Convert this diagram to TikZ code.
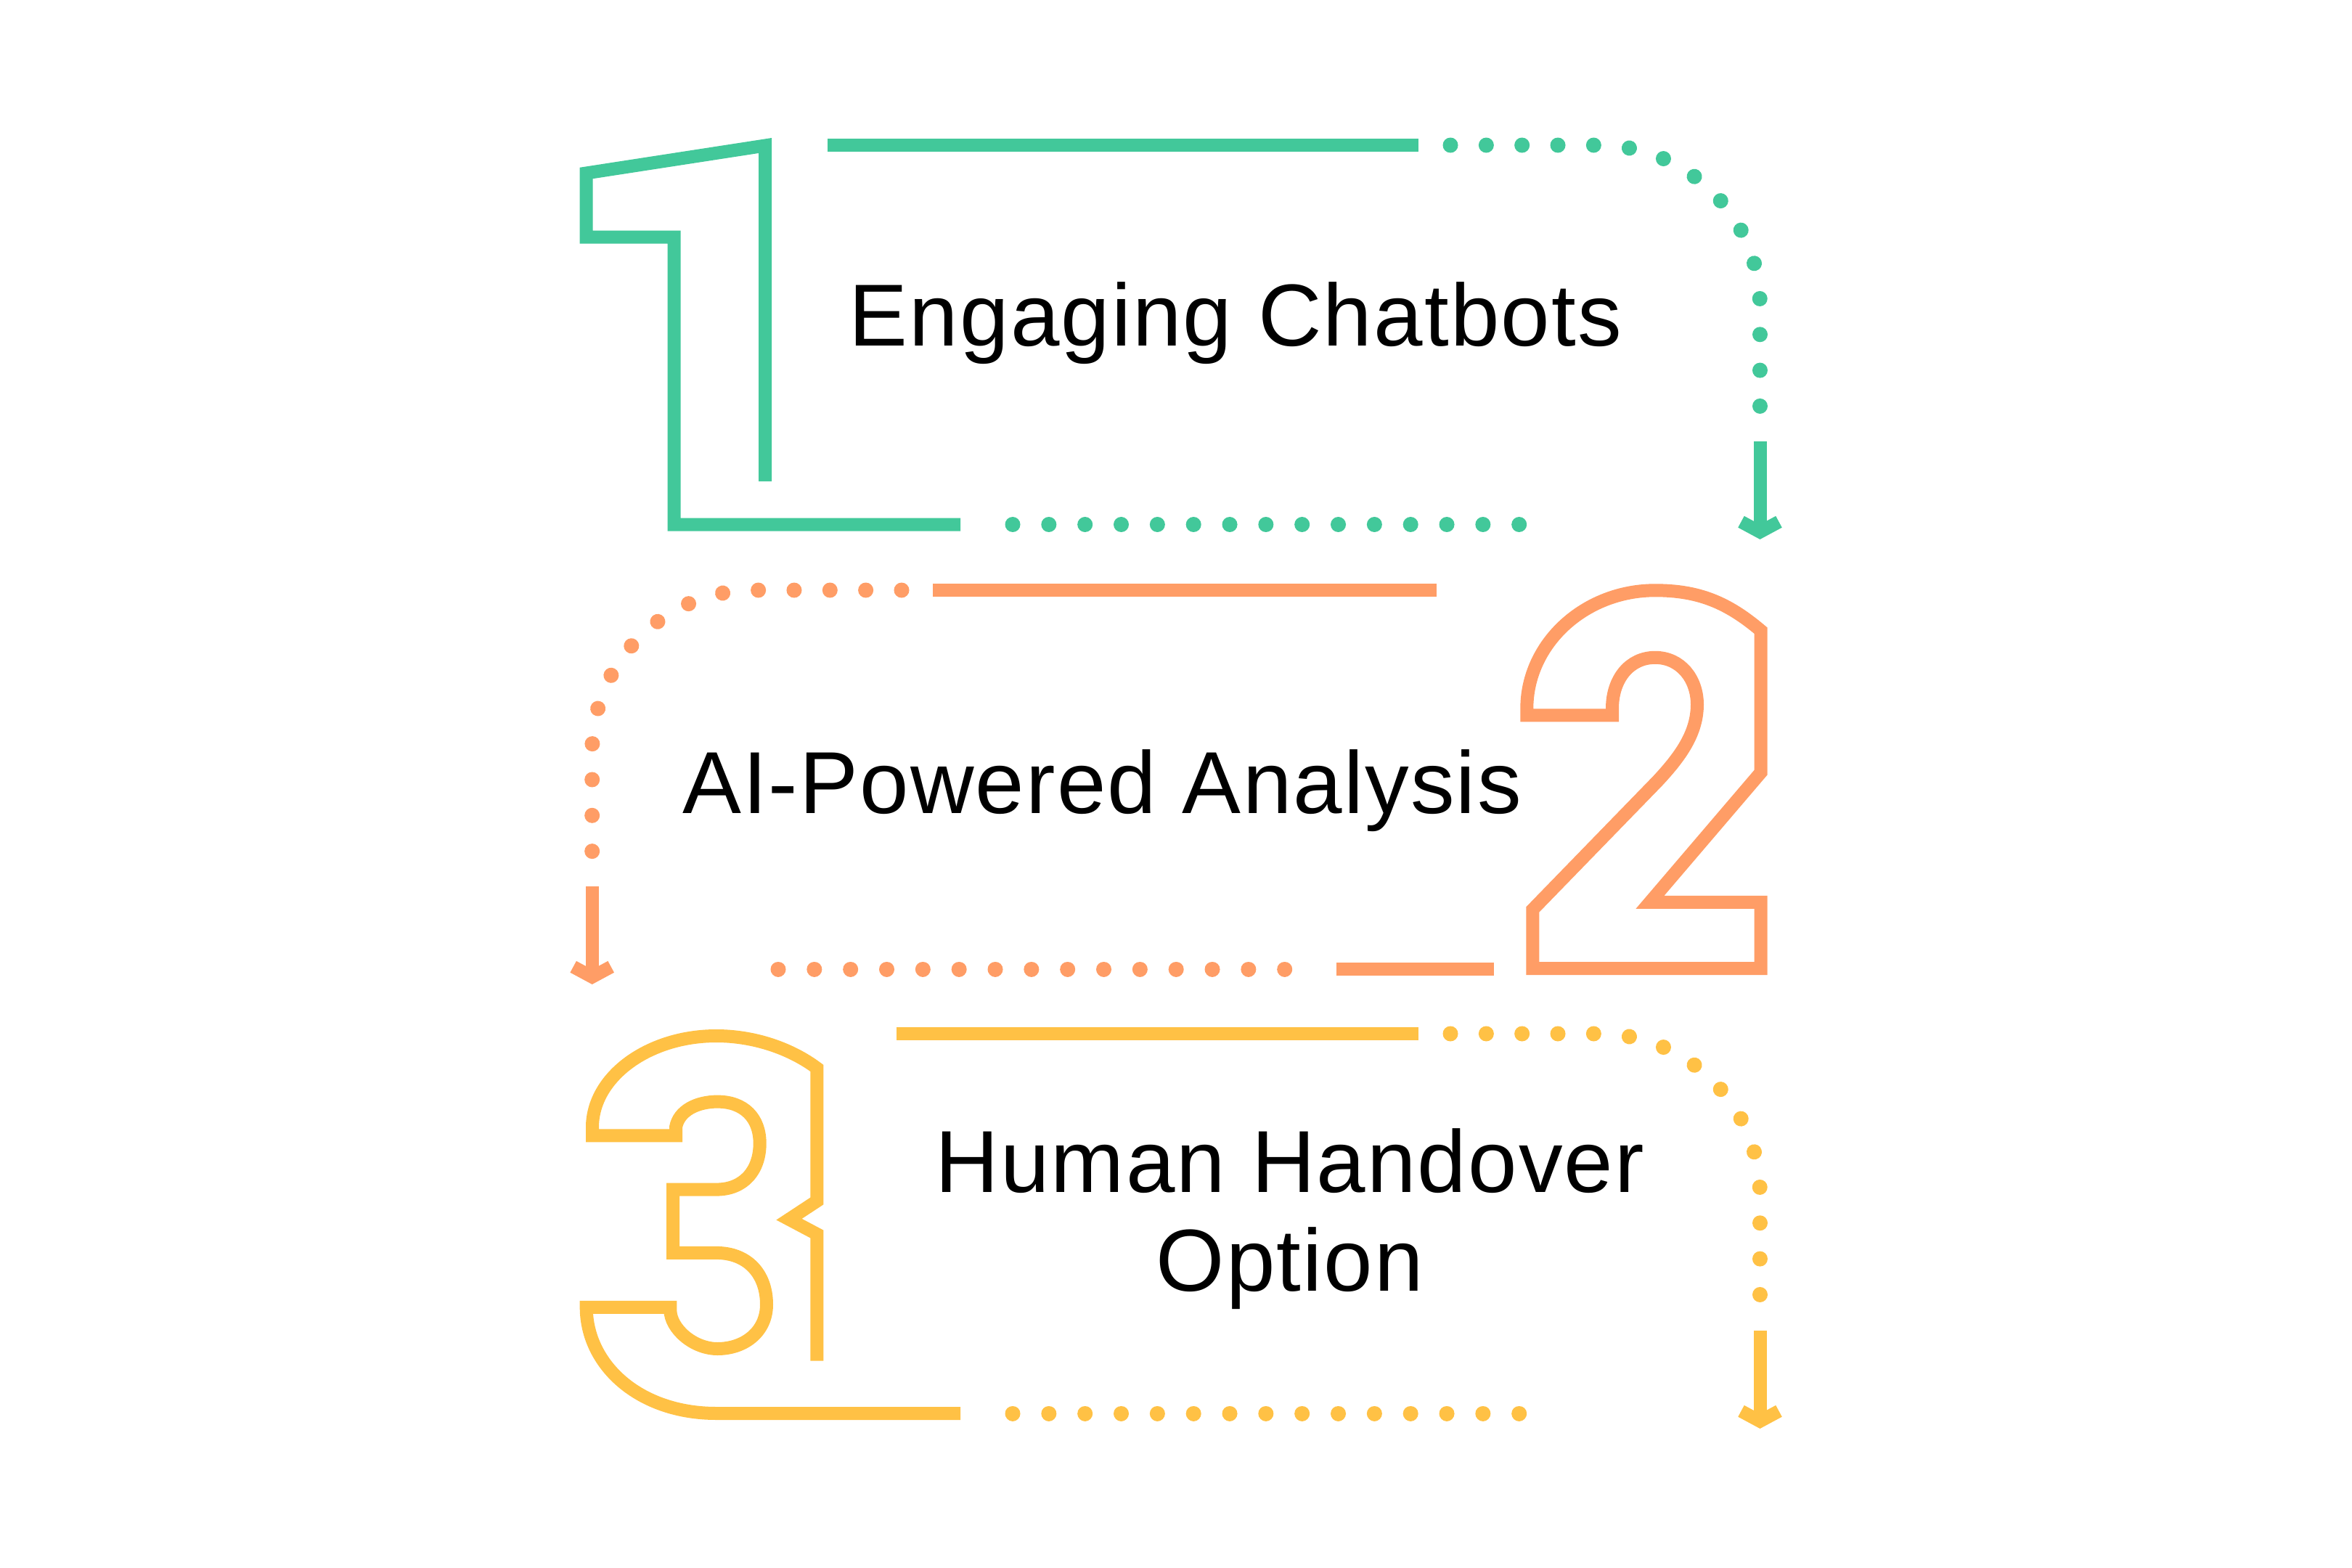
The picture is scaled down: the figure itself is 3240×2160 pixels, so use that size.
\documentclass[tikz,border=0pt]{standalone}
\usepackage{fontspec}
\setsansfont[LetterSpace=1.8]{Liberation Sans}
\usetikzlibrary{arrows.meta}
\definecolor{stepgreen}{HTML}{42C89A}
\definecolor{steporange}{HTML}{FF9D66}
\definecolor{stepyellow}{HTML}{FFC145}

\begin{document}
\begin{tikzpicture}[
  x=0.1mm, y=-0.1mm,
  font=\sffamily,
  digit/.style={line width=1.8mm, line join=miter, line cap=butt},
  solidbar/.style={line width=1.8mm},
  dotline/.style={line width=2.1mm, line cap=round, dash pattern=on 0.01pt off 4.93mm, rounded corners=22.2mm},
  flatdots/.style={dotline, dash pattern=on 0.01pt off 4.98mm},
  flowarrow/.style={line width=1.8mm, -{Straight Barb[length=1.4mm, width=5.2mm]}},
  steptext/.style={font=\sffamily\fontsize{34.5}{38.7}\selectfont, text=black, anchor=base, inner sep=0pt, align=center}
]
  \useasboundingbox (0,0) rectangle (3240,2160);

  % Step 1: Engaging Chatbots
  \node[steptext] (t1) at (1702,476) {Engaging Chatbots};
  \draw[digit, stepgreen] (1054,663) -- (1054,200.5) -- (807.6,238.5) -- (807.6,326.5)
    -- (928.5,326.5) -- (928.5,722.6) -- (1323,722.6);
  \draw[solidbar, stepgreen] (1140,200) -- (1954,200);
  \coordinate (g-dot) at (1998,200);
  \coordinate (g-turn) at (2424.5,200);
  \coordinate (g-end) at (2424.5,562);
  \coordinate (g-tip) at (2424.5,743);
  \draw[dotline, stepgreen] (g-dot) -- (g-turn) -- (g-end);
  \draw[flowarrow, stepgreen] ([yshift=-4.6mm]g-end) -- (g-tip);
  \draw[flatdots, stepgreen] (1395,722.6) -- (2096,722.6);

  % Step 2: AI-Powered Analysis
  \node[steptext] (t2) at (1518,1120) {AI-Powered Analysis};
  \draw[solidbar, steporange] (1285,813) -- (1979,813);
  \coordinate (o-dot) at (1242,813);
  \coordinate (o-turn) at (815.7,813);
  \coordinate (o-end) at (815.7,1175);
  \coordinate (o-tip) at (815.7,1356);
  \draw[dotline, steporange] (o-dot) -- (o-turn) -- (o-end);
  \draw[flowarrow, steporange] ([yshift=-4.6mm]o-end) -- (o-tip);
  \draw[flatdots, steporange] (1072,1335) -- (1774,1335);
  \draw[solidbar, steporange] (1841,1335) -- (2058,1335);
  \draw[digit, steporange] (2111.3,1334.2) -- (2425.7,1334.2) -- (2425.7,1242.8) -- (2273,1242.8)
    -- (2425.7,1064) -- (2425.7,868.8)
    .. controls (2380,830) and (2340,813.3) .. (2280,813.3)
    .. controls (2182.8,813.3) and (2103.3,886.5) .. (2103.3,976)
    -- (2103.3,985.3) -- (2221,985.3) -- (2221,976)
    .. controls (2221,935) and (2245,905.8) .. (2280,905.8)
    .. controls (2315,905.8) and (2338,935) .. (2338,970.5)
    .. controls (2338,1010) and (2315,1042) .. (2283.3,1076)
    -- (2111.3,1253) -- cycle;

  % Step 3: Human Handover Option
  \node[steptext] (t3) at (1777,1778) {Human Handover\\Option};
  \draw[digit, stepyellow] (1125.3,1874.6) -- (1125.3,1700) -- (1087,1679.7) -- (1125.3,1654.5)
    -- (1125.3,1471.4)
    .. controls (1090,1445) and (1040,1427) .. (986.7,1427)
    .. controls (892.8,1427) and (816,1483.6) .. (816,1552.8)
    -- (816,1564.3) -- (931,1564.3) -- (931,1552.8)
    .. controls (935,1530) and (960,1517.6) .. (988.3,1517.6)
    .. controls (1025,1517.6) and (1046.7,1540) .. (1046.7,1575)
    .. controls (1046.7,1612) and (1025,1638.6) .. (986.7,1638.6)
    -- (927,1638.6) -- (927,1725.9) -- (986.7,1725.9)
    .. controls (1030,1725.9) and (1056,1755) .. (1056,1797)
    .. controls (1056,1835) and (1025,1858) .. (988.3,1858)
    .. controls (955,1858) and (923.3,1830) .. (923.3,1804.4)
    -- (923.3,1800.9) -- (807.7,1800.9)
    .. controls (807.7,1880) and (880,1947) .. (986.7,1947)
    -- (1323,1947);
  \draw[solidbar, stepyellow] (1235,1424) -- (1954,1424);
  \coordinate (y-dot) at (1998,1424);
  \coordinate (y-turn) at (2424.5,1424);
  \coordinate (y-end) at (2424.5,1788);
  \coordinate (y-tip) at (2424.5,1968);
  \draw[dotline, stepyellow] (y-dot) -- (y-turn) -- (y-end);
  \draw[flowarrow, stepyellow] ([yshift=-4.5mm]y-end) -- (y-tip);
  \draw[flatdots, stepyellow] (1395,1947) -- (2096,1947);
\end{tikzpicture}
\end{document}
